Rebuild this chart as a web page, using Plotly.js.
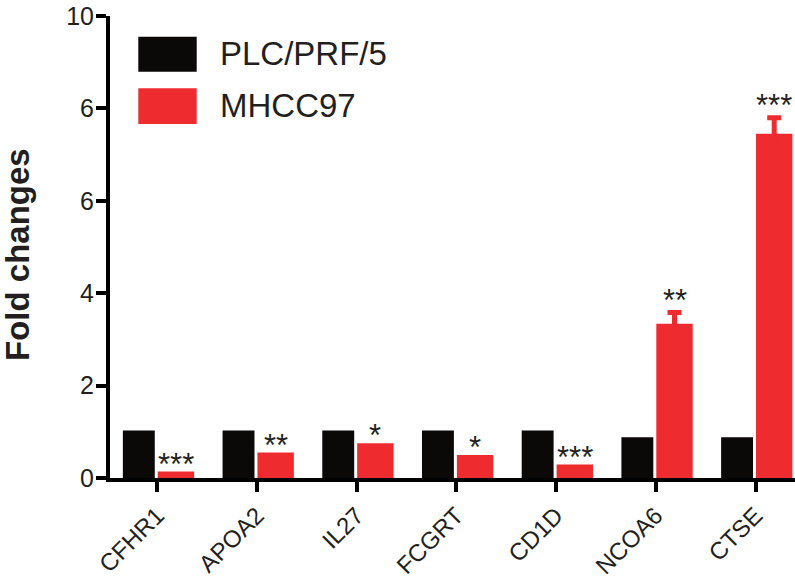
<!DOCTYPE html>
<html>
<head>
<meta charset="utf-8">
<script src="https://cdn.plot.ly/plotly-3.0.1.min.js"></script>
<style>html,body{margin:0;padding:0;background:#fff;}#chart{width:795px;height:585px;}</style>
</head>
<body>
<div id="chart"></div>
<script>
const genes = ['CFHR1', 'APOA2', 'IL27', 'FCGRT', 'CD1D', 'NCOA6', 'CTSE'];
const plcValues = [1.03, 1.03, 1.03, 1.03, 1.03, 0.88, 0.88];
const mhccValues = [0.14, 0.55, 0.75, 0.50, 0.29, 3.34, 7.45];
const mhccErrors = [NaN, NaN, NaN, NaN, NaN, 0.24, 0.35];
const stars = ['***', '**', '*', '*', '***', '**', '***'];
const seriesNames = ['PLC/PRF/5', 'MHCC97'];
const yTickVals = [0, 2, 4, 6, 8, 10];
const yTickText = ['0', '2', '4', '6', '6', '10'];

const BLACK = '#0b0808';
const RED = '#ee2b2e';
const TXT = '#231f20';
const FONT = 'Liberation Sans, Arial, Helvetica, sans-serif';

const M = {l: 110, r: 0, t: 16, b: 107};
const PW = 795 - M.l - M.r, PH = 585 - M.t - M.b, PB = 585 - M.b;
const px = v => (v - M.l) / PW;
const py = v => (PB - v) / PH;

const blackOffset = -0.345, blackWidth = 0.32;
const redOffset = 0.005, redWidth = 0.365;

const traces = [
  {
    type: 'bar', name: seriesNames[0], x: genes, y: plcValues,
    offset: blackOffset, width: blackWidth,
    marker: {color: BLACK, line: {width: 0}}, showlegend: false, hoverinfo: 'x+y'
  },
  {
    type: 'bar', name: seriesNames[1], x: genes, y: mhccValues,
    offset: redOffset, width: redWidth,
    marker: {color: RED, line: {width: 0}}, showlegend: false, hoverinfo: 'x+y',
    error_y: {type: 'data', array: mhccErrors, visible: true, color: RED, thickness: 5, width: 7}
  }
];

const annotations = [];
const redCenter = redOffset + redWidth / 2;
genes.forEach((g, i) => {
  const e = isNaN(mhccErrors[i]) ? 0 : mhccErrors[i];
  annotations.push({
    x: i + redCenter, y: mhccValues[i] + e, xref: 'x', yref: 'y',
    text: stars[i], showarrow: false, xanchor: 'center', yanchor: 'middle',
    yshift: e > 0 ? 12 : 7.5,
    font: {family: FONT, size: 31, color: TXT}
  });
});

// Y-axis title
annotations.push({
  x: px(17), y: py(255), xref: 'paper', yref: 'paper',
  text: '<b>Fold changes</b>', textangle: -90, showarrow: false,
  xanchor: 'center', yanchor: 'middle',
  font: {family: FONT, size: 33, color: TXT}
});

// Legend texts and swatches
const legendColors = [BLACK, RED];
const legendTextY = [54, 106];
const legendBoxY = [[36.7, 71.7], [88.3, 124]];
const shapes = [];
seriesNames.forEach((n, i) => {
  annotations.push({
    x: px(218), y: py(legendTextY[i]), xref: 'paper', yref: 'paper',
    text: n, showarrow: false, xanchor: 'left', yanchor: 'middle',
    font: {family: FONT, size: 33, color: TXT}
  });
  shapes.push({
    type: 'rect', xref: 'paper', yref: 'paper',
    x0: px(138.3), x1: px(196.7),
    y0: py(legendBoxY[i][1]), y1: py(legendBoxY[i][0]),
    fillcolor: legendColors[i], line: {width: 0}
  });
});

const layout = {
  width: 795, height: 585,
  margin: {l: M.l, r: M.r, t: M.t, b: M.b, pad: 0},
  paper_bgcolor: '#fff', plot_bgcolor: '#fff',
  barmode: 'overlay',
  showlegend: false,
  font: {family: FONT, color: TXT},
  xaxis: {
    type: 'category', range: [-0.474, 6.396],
    showline: true, linewidth: 4, linecolor: '#000',
    ticks: 'outside', ticklen: 10, tickwidth: 4, tickcolor: '#000',
    tickangle: -45, tickfont: {family: FONT, size: 24, color: TXT},
    showgrid: false, zeroline: false, fixedrange: true
  },
  yaxis: {
    range: [0, 10],
    tickmode: 'array', tickvals: yTickVals, ticktext: yTickText,
    showline: true, linewidth: 4, linecolor: '#000',
    ticks: 'outside', ticklen: 10, tickwidth: 4, tickcolor: '#000',
    tickfont: {family: FONT, size: 25, color: TXT},
    ticklabeloverflow: 'allow', ticklabelstandoff: -3,
    showgrid: false, zeroline: false, fixedrange: true
  },
  annotations: annotations,
  shapes: shapes
};

Plotly.newPlot('chart', traces, layout, {displayModeBar: false, staticPlot: true});
</script>
</body>
</html>
